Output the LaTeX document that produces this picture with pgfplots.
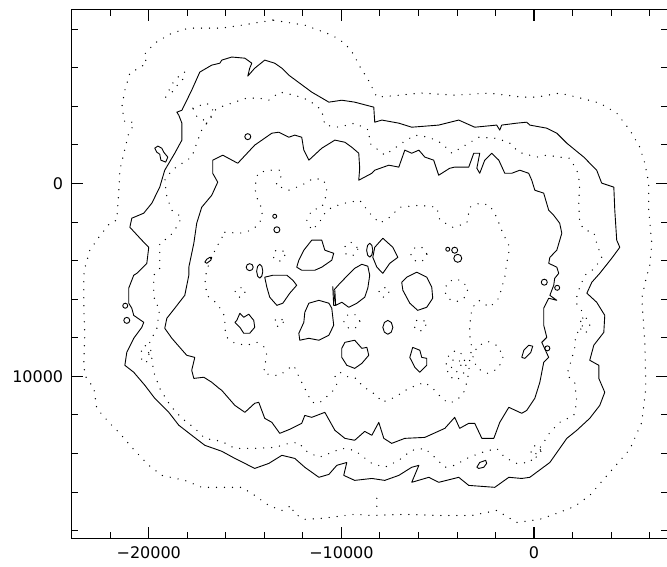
\documentclass[border=0pt]{standalone}
\usepackage{fontspec}
\setmainfont{DejaVu Sans}
\usepackage{pgfplots}
\pgfplotsset{compat=1.18}
\pgfplotsset{
  solidc/.style={black, line width=0.9pt, line join=round},
  dotc/.style={black, line width=1.4pt, dash pattern=on 0pt off 8pt, line cap=round},
  tinyloop/.style={black, line width=0.9pt, only marks, mark=o, mark options={solid}},
}
\begin{document}
\begin{tikzpicture}
\useasboundingbox (-71.7pt,-28pt) rectangle (595.4pt,538.3pt);
\begin{axis}[
  at={(0,0)}, anchor=south west,
  scale only axis, width=595.4pt, height=528.3pt,
  xmin=-24000, xmax=6900, ymin=-9000, ymax=18400,
  y dir=reverse,
  scaled ticks=false,
  xtick={-20000,-10000,0}, xticklabels={−20000,−10000,0},
  ytick={0,10000}, yticklabels={0,10000},
  minor xtick={-22000,-18000,-16000,-14000,-12000,-8000,-6000,-4000,-2000,2000,4000,6000},
  minor ytick={-8000,-6000,-4000,-2000,2000,4000,6000,8000,12000,14000,16000,18000},
  tick align=inside,
  major tick length=11.5pt, minor tick length=6.5pt,
  tick style={black, line width=0.9pt},
  major tick style={line width=1.3pt},
  axis line style={line width=1pt},
  tick label style={font=\fontsize{16}{19}\selectfont},
  xticklabel shift=5pt, yticklabel shift=5pt,
]

% outermost dotted contour
\addplot[dotc] coordinates {
(-13560,-8475) (-15170,-8215) (-16210,-8060) (-17920,-8060) (-18800,-7800) (-19690,-7280) (-20260,-6660) (-20100,-6240) (-20520,-5980) (-20980,-5720) (-21240,-4840) (-21400,-3960) (-21240,-3180) (-20780,-3180) (-20780,-3030) (-21040,-2610) (-21290,-1570) (-21500,-690) (-21550,350) (-21660,1900) (-22020,2060) (-22590,2790) (-23060,3460) (-23320,4400) (-23370,4760) (-23370,6470) (-23320,7870) (-23370,9280) (-23320,9950) (-22850,10620) (-22700,11660) (-22070,12390) (-21500,12960) (-20880,13690) (-20000,14620) (-19320,15140) (-18130,15400) (-17250,15760) (-16210,15760) (-15170,15760) (-14500,16180) (-13770,16700) (-13090,16960) (-12580,16700) (-12470,17110) (-11900,17420) (-11020,17370) (-9310,17160) (-8420,17220) (-6710,17160) (-4950,17220) (-3230,17220) (-1940,16960) (-900,17580) (300,17420) (1180,17110) (2110,16750) (2890,16180) (3930,14980) (4970,13790) (5590,12390) (5800,10620) (5750,8240) (5590,5950) (5850,4760) (6000,4340) (6110,3100) (5950,1390) (5950,-20) (5750,-1050) (5490,-1880) (4970,-2770) (4290,-3650) (3410,-4170) (2220,-4480) (1330,-4690) (140,-4480) (-640,-4480) (-2350,-4690) (-4120,-4580) (-5830,-4690) (-7540,-4530) (-8160,-4480) (-8680,-5520) (-8940,-5880) (-9410,-6760) (-9830,-7280) (-10500,-7700) (-11900,-8215) (-13560,-8475)
};

% outer solid contour
\addplot[solidc] coordinates {
(-16310,-6240) (-16730,-6140) (-17350,-5780) (-17770,-4840) (-18280,-3800) (-18540,-3700) (-18440,-3540) (-18280,-3130) (-18280,-2250) (-18650,-1570) (-19170,-690) (-19430,190) (-19840,1020) (-20260,1540) (-20880,1800) (-20980,2270) (-20360,2940) (-20000,3310) (-20100,4140) (-20620,4660) (-20780,4760) (-21040,5430) (-21040,6210) (-20880,6470) (-20780,6840) (-20260,7200) (-20360,7460) (-20780,8030) (-21140,8760) (-21240,9430) (-20780,9790) (-20200,10470) (-19690,11140) (-18960,11870) (-18440,12540) (-17770,13060) (-17090,13580) (-16210,13890) (-15530,14260) (-15010,14520) (-14500,14780) (-13770,14520) (-13090,14100) (-12420,14260) (-11900,14720) (-11170,15240) (-10650,15090) (-10240,14620) (-9720,14470) (-9880,15140) (-9310,15400) (-8420,15300) (-7750,15400) (-7020,15140) (-6350,14720) (-5980,14620) (-6350,15500) (-5460,15240) (-4950,15500) (-3910,15240) (-3390,15660) (-2040,15760) (-1310,15240) (-640,15300) (-220,15240) (820,14470) (1700,13220) (2220,12800) (2890,12180) (3410,11510) (3670,10830) (3360,10110) (3360,9430) (2890,9170) (3100,8390) (3620,7720) (3670,6840) (3250,6160) (2740,5690) (3000,5120) (3410,4660) (4030,3880) (4450,3310) (4290,2940) (4190,1390) (4140,190) (3510,-20) (3250,-690) (2580,-1370) (1700,-2090) (1180,-2610) (660,-2870) (-220,-3030) (-380,-3180) (-900,-3130) (-1680,-3030) (-1780,-2770) (-1940,-3030) (-3080,-2920) (-3910,-3290) (-4950,-3030) (-6350,-2920) (-7020,-3130) (-7900,-3290) (-8270,-3180) (-8320,-3960) (-9310,-4220) (-9980,-4320) (-10650,-4220) (-11540,-4740) (-12730,-5620) (-13090,-5980) (-13460,-6240) (-13980,-6400) (-14500,-5980) (-14860,-5570) (-14760,-5980) (-14650,-6240) (-15010,-6500) (-15690,-6560) (-16210,-6400) (-16310,-6240)
};

% second dotted contour
\addplot[dotc] coordinates {
(-16990,-3130) (-16570,-3800) (-16310,-3960) (-14910,-4430) (-14290,-4430) (-13770,-4320) (-13200,-4740) (-12420,-4580) (-11690,-4320) (-11020,-3800) (-10860,-3030) (-10140,-2920) (-9310,-3130) (-8580,-2770) (-8530,-2090) (-7750,-1470) (-6870,-2090) (-6190,-2510) (-5460,-2400) (-4790,-2090) (-4270,-1570) (-3750,-1880) (-2870,-2400) (-2040,-2350) (-1310,-2140) (-790,-1620) (140,-1370) (660,-1470) (1330,-1370) (1850,-1310) (2220,-690) (2370,-20) (2320,1020) (2370,2060) (2630,2420) (3100,2530) (3250,3100) (3510,3830) (3150,4400) (2630,4760) (2270,5640) (2160,6160) (2530,6680) (2530,7350) (2160,7870) (2110,8550) (1850,9430) (1700,9950) (2110,10310) (2220,11350) (2060,12030) (1330,12390) (820,12910) (500,13430) (140,13950) (-220,14470) (-900,14520) (-1520,14210) (-1940,13740) (-2710,13950) (-3390,14210) (-4120,14620) (-4630,14720) (-5150,14210) (-5670,13740) (-6350,13840) (-7020,14360) (-7750,14720) (-8420,14520) (-9310,13840) (-9980,13740) (-10500,13950) (-11170,14210) (-11900,13840) (-12210,13430) (-12730,13480) (-13460,13690) (-14500,13740) (-15530,13740) (-16210,13380) (-17090,13220) (-17610,12700) (-18280,12180) (-18800,11610) (-19060,11250) (-19430,10620) (-19740,9790) (-19840,9070) (-19950,8240) (-19580,7510) (-19430,6470) (-19690,6160) (-19740,5640) (-19740,4760) (-19430,4400) (-19430,3100) (-18960,2790) (-18650,2420) (-18280,1750) (-18800,1390) (-19060,710) (-19170,-170) (-18800,-690) (-18180,-1110) (-17770,-1370) (-17510,-2090) (-17250,-2770) (-16990,-3130)
};

% inner solid contour
\addplot[solidc] coordinates {
(-15380,-1050) (-16160,-1470) (-16680,-1210) (-16680,-530) (-16420,-70) (-16730,610) (-17250,1230) (-17510,2060) (-17660,3100) (-17920,4340) (-17920,4760) (-18130,5800) (-18650,6470) (-19060,6990) (-19170,7510) (-18800,8030) (-18390,8500) (-18030,8910) (-17610,9020) (-17770,9690) (-17660,10110) (-17140,10050) (-16730,10310) (-16360,10620) (-16210,10730) (-15530,11510) (-15010,11870) (-14500,11400) (-14290,11350) (-13980,12180) (-13610,12390) (-13200,12960) (-12680,12750) (-12060,12440) (-11900,12030) (-11540,12130) (-10860,11870) (-10340,12800) (-9820,13220) (-9310,13320) (-8790,12860) (-8420,13060) (-8060,12390) (-7800,13220) (-7390,13480) (-6710,13220) (-5670,13170) (-4630,12700) (-4120,12130) (-3860,12700) (-3390,12440) (-3080,12440) (-2710,13220) (-2090,13220) (-1780,12390) (-1310,11610) (-640,11920) (-380,11770) (40,11140) (300,10310) (500,9280) (760,9020) (400,8240) (660,7980) (500,7350) (500,6470) (760,5950) (1180,6060) (820,5800) (1020,5280) (1070,4920) (1280,4660) (1180,4340) (760,4140) (820,3830) (1180,3460) (1440,2580) (1330,2060) (1020,1650) (760,1390) (500,500) (40,350) (-120,-170) (-280,-530) (-740,-690) (-1160,-530) (-1520,-530) (-1830,-1210) (-2200,-1570) (-2560,-1210) (-2820,-530) (-2970,-790) (-2820,-1570) (-3130,-1570) (-3390,-850) (-3750,-850) (-4120,-850) (-4380,-790) (-4950,-430) (-5210,-1210) (-5670,-1370) (-5980,-1730) (-6350,-1570) (-6710,-1730) (-7020,-850) (-7540,-950) (-8270,-690) (-8420,-530) (-9100,-170) (-9050,-790) (-9100,-1570) (-9460,-1880) (-9820,-2140) (-10340,-2250) (-11020,-1830) (-11690,-1210) (-11950,-1730) (-12060,-2400) (-12420,-2510) (-12730,-2400) (-13250,-2660) (-13610,-2610) (-14500,-1990) (-15380,-1050)
};

% large interior dotted contour
\addplot[dotc] coordinates {
(-16050,2530) (-15270,2580) (-14650,2420) (-14240,2060) (-14080,1390) (-14340,870) (-14500,240) (-14340,-530) (-13820,-690) (-13200,-690) (-13090,-430) (-13410,90) (-12730,350) (-12060,90) (-11430,-280) (-10910,-170) (-10760,350) (-10860,870) (-11020,1230) (-11540,1390) (-11800,1900) (-11540,2420) (-11170,2060) (-10860,1540) (-10500,1230) (-9820,1020) (-9050,870) (-8530,1540) (-8010,2060) (-7490,1750) (-6970,1230) (-5930,1130) (-5050,1230) (-4890,1900) (-4220,2270) (-3490,2060) (-3340,1230) (-2820,1020) (-2300,1130) (-1940,1750) (-1620,2580) (-1260,3310) (-1420,4140) (-1520,4860) (-1830,5950) (-2300,6420) (-2870,6060) (-3230,6470) (-3340,7350) (-3340,7870) (-3230,8550) (-3340,9070) (-3390,9790) (-3490,10310) (-3650,10830) (-4010,11250) (-4430,11400) (-4790,11140) (-5150,10730) (-5670,10310) (-6500,10620) (-7230,11090) (-7900,11350) (-8160,10990) (-8580,10730) (-8940,10470) (-9200,10110) (-9620,10050) (-10080,9790) (-10340,9950) (-10240,10470) (-10500,10830) (-10860,11140) (-11170,11400) (-11540,11350) (-11800,10830) (-12060,10310) (-12320,9790) (-12470,9430) (-12730,9590) (-13200,9950) (-13510,9950) (-14030,9850) (-13980,9430) (-13870,8910) (-13980,8500) (-14390,8240) (-14910,8390) (-15530,8290) (-15950,7980) (-16050,7510) (-16050,6940) (-16160,6680) (-16470,6210) (-16990,5800) (-17090,4920) (-16830,3980) (-16420,3200) (-16050,2530)
};

% small dotted loops
\addplot[dotc] coordinates {(-12940,3730) (-13030,3950) (-13250,4040) (-13470,3950) (-13560,3730) (-13470,3510) (-13250,3420) (-13030,3510) (-12940,3730)};
\addplot[dotc] coordinates {(-9150,3410) (-9260,3660) (-9510,3770) (-9760,3660) (-9870,3410) (-9760,3160) (-9510,3050) (-9260,3160) (-9150,3410)};
\addplot[dotc] coordinates {(-5565,3670) (-5690,3960) (-5980,4085) (-6270,3960) (-6395,3670) (-6270,3380) (-5980,3255) (-5690,3380) (-5565,3670)};
\addplot[dotc] coordinates {(-15010,5640) (-15090,5820) (-15270,5900) (-15450,5820) (-15530,5640) (-15450,5460) (-15270,5380) (-15090,5460) (-15010,5640)};
\addplot[dotc] coordinates {(-13020,7200) (-13090,7360) (-13250,7430) (-13410,7360) (-13480,7200) (-13410,7040) (-13250,6970) (-13090,7040) (-13020,7200)};
\addplot[dotc] coordinates {(-9045,7150) (-9170,7440) (-9460,7565) (-9750,7440) (-9875,7150) (-9750,6860) (-9460,6735) (-9170,6860) (-9045,7150)};
\addplot[dotc] coordinates {(-7540,5640) (-7620,5820) (-7800,5900) (-7980,5820) (-8060,5640) (-7980,5460) (-7800,5380) (-7620,5460) (-7540,5640)};
\addplot[dotc] coordinates {(-5620,7350) (-5710,7570) (-5930,7660) (-6150,7570) (-6240,7350) (-6150,7130) (-5930,7040) (-5710,7130) (-5620,7350)};
\addplot[dotc] coordinates {(-3460,5540) (-3640,5960) (-4060,6140) (-4480,5960) (-4660,5540) (-4480,5120) (-4060,4940) (-3640,5120) (-3460,5540)};
\addplot[dotc] coordinates {(-3540,9430) (-3700,9980) (-4060,10210) (-4420,9980) (-4580,9430) (-4420,8880) (-4060,8650) (-3700,8880) (-3540,9430)};
\addplot[dotc] coordinates {(-3800,9430) (-3880,9680) (-4060,9790) (-4240,9680) (-4320,9430) (-4240,9180) (-4060,9070) (-3880,9180) (-3800,9430)};
\addplot[dotc] coordinates {(-1620,9020) (-1850,9600) (-2400,9850) (-2950,9600) (-3180,9020) (-2950,8440) (-2400,8190) (-1850,8440) (-1620,9020)};
\addplot[dotc] coordinates {(-19990,8860) (-20050,9190) (-20200,9330) (-20350,9190) (-20410,8860) (-20350,8530) (-20200,8390) (-20050,8530) (-19990,8860)};
\addplot[dotc] coordinates {(2890,7350) (2810,7640) (2630,7765) (2450,7640) (2370,7350) (2450,7060) (2630,6935) (2810,7060) (2890,7350)};
\addplot[dotc] coordinates {(350,13890) (270,14110) (90,14200) (-90,14110) (-170,13890) (-90,13670) (90,13580) (270,13670) (350,13890)};
\addplot[dotc] coordinates {(-8160,16330) (-8160,16850)};
\addplot[dotc] coordinates {(-19120,-4480) (-18800,-5150) (-18390,-5620) (-18130,-5780) (-18230,-5410) (-18650,-4950) (-18960,-4480)};
\addplot[dotc] coordinates {(-17710,-3910) (-17450,-4010) (-16990,-4170) (-16680,-3860) (-16730,-3440) (-17190,-3290) (-17510,-3490) (-17710,-3910)};

% solid blobs
\addplot[solidc] coordinates {(-11540,2940) (-11020,2940) (-10860,3460) (-10400,3620) (-10500,3980) (-11020,4340) (-11380,4500) (-12060,4500) (-12320,4340) (-12210,3980) (-11950,3460) (-11540,2940)};
\addplot[solidc] coordinates {(-13980,4860) (-13560,4760) (-12830,4760) (-12520,5020) (-12320,5280) (-12680,5690) (-13040,6210) (-13350,6320) (-13720,5900) (-13870,5380) (-13980,4860)};
\addplot[solidc] coordinates {(-14080,4550) (-14130,4800) (-14240,4910) (-14350,4800) (-14400,4550) (-14350,4300) (-14240,4190) (-14130,4300) (-14080,4550)};
\addplot[solidc] coordinates {(-17090,4080) (-16990,3930) (-16830,3830) (-16730,3830) (-16780,3980) (-16990,4140) (-17090,4080)};
\addplot[solidc] coordinates {(-7850,2840) (-7330,3310) (-7070,3830) (-7490,4140) (-7850,4660) (-8160,4340) (-8370,3830) (-8270,3310) (-7850,2840)};
\addplot[solidc] coordinates {(-8370,3460) (-8420,3710) (-8530,3820) (-8640,3710) (-8690,3460) (-8640,3210) (-8530,3100) (-8420,3210) (-8370,3460)};
\addplot[solidc] coordinates {(-11690,6210) (-11170,6060) (-10650,6210) (-10500,6470) (-10400,7350) (-10650,7870) (-11170,8130) (-11690,8030) (-12160,8130) (-12210,7770) (-11950,7200) (-11900,6680) (-11690,6210)};
\addplot[solidc] coordinates {(-10340,6060) (-10400,5540) (-10080,5180) (-9670,4760) (-9310,4400) (-8940,4190) (-8630,4290) (-8530,4760) (-8630,5430) (-8790,5900) (-9200,6210) (-9620,6420) (-9980,6160) (-10290,6320) (-10340,6060)};
\addplot[solidc] coordinates {(-10450,5330) (-10400,6320) (-10300,6320) (-10340,5540)};
\addplot[solidc] coordinates {(-9820,8240) (-9310,8130) (-8940,8550) (-8680,8500) (-8580,8910) (-8940,9330) (-9310,9590) (-9720,9430) (-9980,9020) (-9980,8550) (-9820,8240)};
\addplot[solidc] coordinates {(-15430,7100) (-15270,6730) (-15070,6940) (-14810,6780) (-14550,7100) (-14500,7460) (-14760,7770) (-15070,7770) (-15270,7460) (-15530,7200) (-15430,7100)};
\addplot[solidc] coordinates {(-6610,4860) (-6090,4600) (-5570,4860) (-5310,5380) (-5260,5950) (-5570,6420) (-6040,6580) (-6450,6210) (-6810,5540) (-6870,5120) (-6610,4860)};
\addplot[solidc] coordinates {(-7330,7460) (-7410,7710) (-7590,7820) (-7770,7710) (-7850,7460) (-7770,7210) (-7590,7100) (-7410,7210) (-7330,7460)};
\addplot[solidc] coordinates {(-6300,8500) (-5930,8650) (-5830,9020) (-5570,9070) (-5570,9430) (-5930,9790) (-6190,9530) (-6450,9020) (-6300,8500)};
\addplot[solidc] coordinates {(-640,9020) (-530,8650) (-280,8390) (-70,8440) (-170,8760) (-480,9070) (-640,9020)};
\addplot[solidc] coordinates {(-2970,14720) (-2820,14470) (-2510,14360) (-2460,14520) (-2610,14720) (-2870,14780) (-2970,14720)};
\addplot[solidc] coordinates {(-19690,-1830) (-19530,-1940) (-19320,-1830) (-19220,-1620) (-19010,-1370) (-19120,-1110) (-19370,-1210) (-19430,-1520) (-19580,-1620) (-19690,-1830)};

% tiny solid loops
\addplot[tinyloop, mark size=2pt] coordinates {(-13460,1700) (-4480,3410)};
\addplot[tinyloop, mark size=2.5pt] coordinates {(690,8550) (1200,5410) (-21220,6340)};
\addplot[tinyloop, mark size=3pt] coordinates {(-13350,2400) (-4120,3460) (530,5120) (-21140,7100) (-14860,-2430)};
\addplot[tinyloop, mark size=3.5pt] coordinates {(-14760,4340)};
\addplot[tinyloop, mark size=4pt] coordinates {(-3960,3880)};

\end{axis}
\end{tikzpicture}
\end{document}
